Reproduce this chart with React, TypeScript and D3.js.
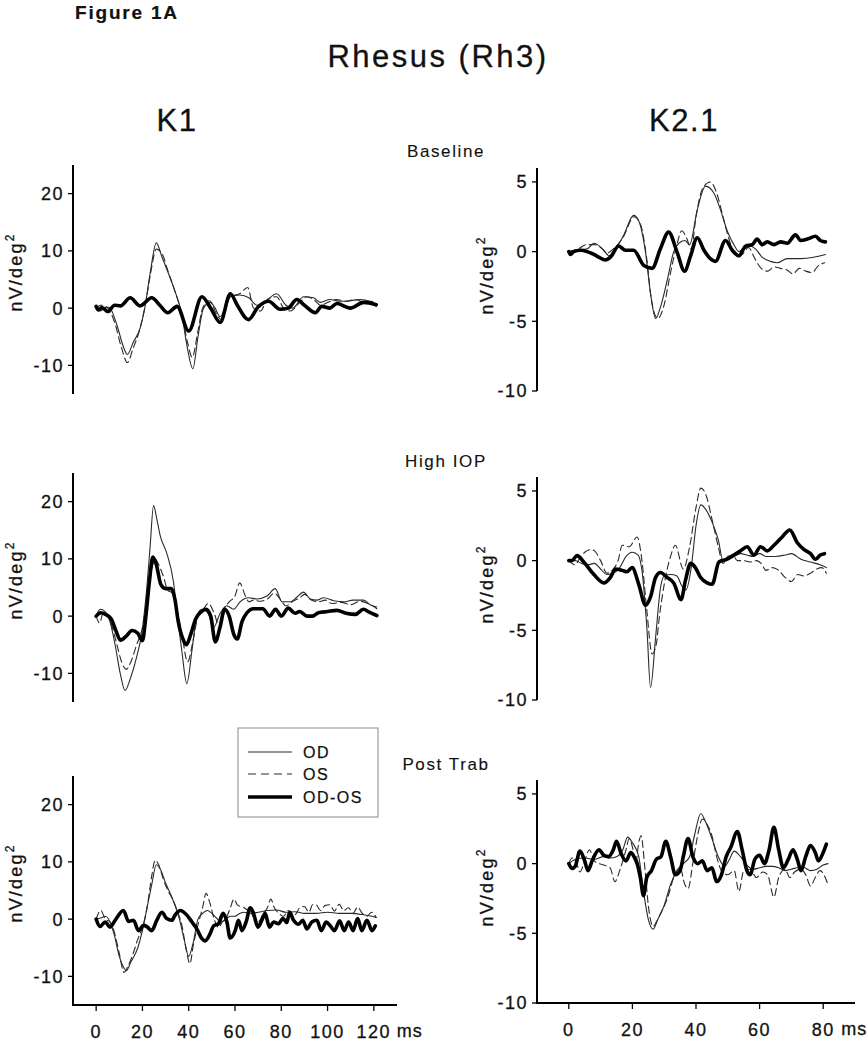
import React from 'react';
import * as d3 from 'd3';

type Pt = [number, number];

// ---------- text / ticks ----------
const FIGURE_LABEL = 'Figure 1A';
const TITLE = 'Rhesus (Rh3)';
const COLUMN_TITLES = ['K1', 'K2.1'];
const CONDITIONS = ['Baseline', 'High IOP', 'Post Trab'];
const SERIES_NAMES = ['OD', 'OS', 'OD-OS'];
const Y_LABEL = 'nV/deg';
const X_UNIT = 'ms';
const K1_Y_TICKS = [-10, 0, 10, 20];
const K2_Y_TICKS = [-10, -5, 0, 5];
const K1_X_TICKS = [0, 20, 40, 60, 80, 100, 120];
const K2_X_TICKS = [0, 20, 40, 60, 80];
const K1_Y_DOMAIN: [number, number] = [-15, 25];
const K2_Y_DOMAIN: [number, number] = [-10, 6];
const K1_X_DOMAIN: [number, number] = [-10, 130];
const K2_X_DOMAIN: [number, number] = [-10, 90];

// ---------- data: [ms, nV/deg2] ----------
const K1_BASE_OD: Pt[] = [[0,0.3],[1.7,-0.5],[4.6,0.2],[6,0],[9,-3],[12,-7],[13.5,-8.1],[16,-6],[19,-3.5],[21,0],[23.3,6],[26,11.4],[28.4,9],[31.3,6],[34,3],[37,-1],[39,-6],[41.8,-10.6],[44,-5],[46.4,0],[49.3,1],[51.4,0],[53.6,-1.5],[58,2],[62,2.3],[66,1.8],[69.5,0.5],[74,1.5],[78,2.5],[82,0.5],[85,0],[89.6,2],[94,1.8],[96.8,1],[101,1.5],[105.5,1.2],[110,1.3],[114,1.5],[118.4,1.2],[121,0.5]];
const K1_BASE_OS: Pt[] = [[0,0],[2,0.5],[5,0],[8,-2.5],[11,-7],[13.5,-9.5],[16,-7],[19,-3.5],[21,0],[23.5,6],[26,10.3],[28.5,9.5],[31,6.5],[34,3],[37,-1],[39.5,-6],[41.5,-8.6],[44,-4],[46,0],[49,1.3],[52,-1],[54,-2],[58,2],[62,2.5],[65.5,3.6],[68,0],[71,-0.5],[74,1.5],[78,2],[81,0],[84,-0.5],[88,1],[91,2],[94,1.5],[97,0.5],[100,1],[104,1.5],[108,1.2],[112,1.5],[116,1],[119,1.2],[121,0.3]];
const K1_BASE_DIFF: Pt[] = [[0,0.3],[1,-0.3],[2.5,0.1],[5,-0.6],[8,0.5],[10.5,0.4],[14.7,1.8],[19,0.4],[24,1.8],[27.5,0.5],[31,-0.8],[35,0.3],[40,-4],[45.7,2],[49.5,0],[53.6,-2.5],[58,2.5],[61,0.5],[65.8,-2],[70,0.2],[74.5,1.2],[79.5,-0.2],[83,0],[86.7,1.5],[90,0.5],[94.7,-0.8],[97.5,0.3],[101,0],[104,0.8],[109.8,0],[115.6,1],[121,0.6]];

const K2_BASE_OD: Pt[] = [[0,0],[2.6,0.1],[5.8,0.2],[7.9,0.6],[11,0.1],[12.6,-0.3],[14.7,0.2],[17.3,1.2],[20.4,2.6],[22,2.2],[24.1,0],[25.7,-3],[27.3,-4.8],[28.8,-4],[31,-2],[33,0],[34.6,0.6],[36.5,0.8],[38,0.5],[40.4,3],[43,4.7],[45.6,4.2],[47.7,3],[49.8,1.5],[51.9,0.5],[53.5,0],[55,0.2],[57,0.4],[58.7,0.2],[60.8,-0.4],[63.4,-0.7],[65.5,-0.8],[68.7,-0.5],[72.9,-0.5],[77,-0.4],[80.7,-0.2]];
const K2_BASE_OS: Pt[] = [[0,0],[3,0.2],[5.5,0.5],[8,0.5],[10,0.3],[12,-0.1],[14,0.2],[17,1],[20.5,2.5],[22.5,2],[24.5,-0.5],[26,-3.5],[28,-4.8],[30,-3.8],[32,-1.5],[34,0.5],[35.5,1.5],[37,1],[38.5,0.2],[40,2.5],[42,4.5],[44.5,5],[46.5,4.2],[48.5,2.5],[50.5,0.8],[52.5,-0.3],[54.5,-0.2],[56.5,0.3],[58.5,-0.5],[60.5,-1.2],[62.5,-1.4],[64.5,-1.1],[66.5,-1.2],[68.5,-1.3],[70.5,-1.6],[72.5,-1.2],[74.5,-1.4],[76.5,-1.5],[78.5,-1],[80.5,-0.8]];
const K2_BASE_DIFF: Pt[] = [[0,0],[0.5,-0.2],[1.5,0],[3.7,0.1],[5.8,0],[7.9,-0.2],[9.4,-0.4],[11.5,-0.6],[13.1,-0.4],[15.7,0.4],[17.8,0.1],[20.4,0.1],[23.6,-1],[26.2,-1.2],[28.8,0.2],[31.4,1.4],[34,0],[36.4,-1.4],[38.3,-0.3],[40.4,1],[42.5,0.1],[44.5,-0.5],[46.1,-0.7],[49.3,0.8],[51.4,0.1],[53.5,-0.3],[55.6,0.4],[57.7,0.5],[59.2,0.9],[60.8,0.5],[62.4,0.7],[64.5,0.5],[66.6,0.7],[68.7,0.6],[71.3,1.2],[72.9,0.8],[75,0.9],[77.6,1.1],[79.1,0.8],[80.7,0.7]];

const K1_HIGH_OD: Pt[] = [[0,0],[1.7,1.2],[3.9,0.8],[6,-1],[8.2,-5],[10.4,-10],[12.5,-13],[14.7,-11],[17.6,-7],[19.7,-3],[21.9,5],[23.3,12],[24.8,19.3],[26.2,17],[27.7,14],[30.5,11],[33.4,6],[34.9,1],[37,-6],[39.2,-11.8],[41.4,-6],[43.5,0],[45.7,1.2],[48.6,0.3],[50.7,-2],[53.6,0.5],[56.5,1.8],[59.4,1.2],[62.2,2.5],[65.9,3.2],[69.5,3],[73.8,3.5],[77.4,4.8],[80.3,2.5],[83.9,2.5],[86.7,3.3],[89.6,4.2],[92.5,3],[95.4,2.8],[98.3,3.2],[102.6,2.7],[107,2.5],[111,2.8],[115.6,2.8],[118.4,2],[121.3,1.6]];
const K1_HIGH_OS: Pt[] = [[0,0],[1.5,-1.2],[3,0.5],[5,0.3],[7,-2],[9,-5],[11,-8],[13,-9.3],[15,-8],[17.5,-5],[20,-2],[22,3],[24,8],[25.5,10],[27,9],[29,7],[31,4.5],[33,4],[35,1],[37,-3],[39.5,-8],[42,-4],[44,0],[46,1],[48.5,2.2],[51,0.5],[53,-1.5],[55,1],[57.5,2.5],[60,3.5],[62,5.8],[64.5,3.5],[66,2.5],[68,2.8],[71,2.6],[74,3],[77,4],[79.5,3],[82,1.8],[85,2.6],[88,3.2],[90,3.8],[93,2.8],[96,2.5],[99,2.8],[102,2.2],[106,2.4],[110,2],[114,2.6],[118,2.1],[121.3,1.3]];
const K1_HIGH_DIFF: Pt[] = [[0,0],[2,0.6],[4.5,0.2],[6.5,-0.5],[8.5,-2.5],[10.5,-4.2],[13,-3.5],[15.5,-2.5],[18,-3],[20,-4.3],[21.5,0],[23,6],[24.5,10.3],[26,9],[28,5.5],[30,4.8],[32.5,4.8],[34,3],[35.5,-1],[37.5,-4],[39,-5],[41,-3],[43,-0.5],[45.5,0.8],[47.5,1.2],[49.5,0],[51.5,-4.5],[53.5,-2],[55.5,1.2],[57.5,0],[59.5,-3.2],[61,-4],[63,-1],[65,0.5],[68,1.3],[72,1.3],[75,0],[77.5,1.2],[80,0],[83,1.4],[86,0.5],[88,0.8],[91,0],[93.5,0],[96,0.6],[100,0.8],[104,1],[108,0.5],[112,0.3],[115.5,1.2],[118,0.7],[121.3,0.1]];

const K2_HIGH_OD: Pt[] = [[0,0],[2,0],[4,-0.2],[6,-0.3],[8,-0.2],[10,-0.6],[12,-1],[14,-0.9],[16,-0.5],[18,0.3],[20,0.6],[21.8,0.4],[23,-0.7],[24.6,-5],[25.7,-9.1],[27.3,-5.5],[28.8,-2],[30,-1.1],[32,-1],[34,-1.1],[35.5,-1.8],[36.8,-2.1],[38.5,-0.5],[40,2.5],[41.5,4],[43,3.7],[45,2.8],[47,1.5],[48.5,0],[50,0.1],[52,0.3],[54,0.5],[56,0.4],[58,0.3],[60,0.5],[62,0.3],[65,0.3],[68,0.4],[70,0.5],[73,0.1],[76,-0.1],[79,-0.3],[81,-0.5]];
const K2_HIGH_OS: Pt[] = [[0,0],[2,-0.3],[3.5,0.2],[5,0.6],[7,0.8],[8.5,0.6],[10,0],[12,-0.9],[14,-0.6],[15.5,0],[16.8,1.1],[19,1],[21.5,1.7],[23,0],[24.5,-3.5],[26.2,-6.7],[27.5,-6],[28.5,-4],[30,-1.7],[32,0.3],[33.5,1.1],[36,-0.6],[38,1],[40,3.8],[41.5,5.2],[43,4.8],[45,3],[47,1],[48.5,-0.2],[50,0.3],[51.5,0.4],[53,0],[55,0],[57,-0.1],[59,0],[60.5,-0.2],[62,-0.7],[64,-0.5],[66,-0.7],[68,-1.2],[70,-1.5],[72,-1],[74,-1.1],[76,-0.9],[78,-0.6],[79.5,-0.5],[81,-0.9]];
const K2_HIGH_DIFF: Pt[] = [[0,0],[1,0],[2.6,0.36],[4.7,-0.1],[7.9,-1],[11,-1.6],[13.1,-1.2],[14.7,-0.6],[16.8,-0.7],[18.3,-0.8],[19.9,-0.5],[22,-1.7],[24.1,-3.2],[25.7,-2.6],[27.3,-1.2],[28.8,-0.85],[30.9,-1.2],[33,-1.6],[35.3,-2.8],[36.7,-1.4],[38.3,-0.2],[39.8,-0.5],[41.4,-1.2],[43.5,-1.6],[45.1,-1.7],[47.2,-0.1],[49.8,0.1],[51.9,0.4],[54,0.7],[56.1,1],[58.2,0.4],[60.3,1],[62.4,0.7],[64.5,1.1],[67.1,1.7],[69.5,2.2],[71.8,1.3],[73.9,0.8],[76,0.5],[77.6,0.1],[79.1,0.4],[80.4,0.5]];

const K1_POST_OD: Pt[] = [[0,0],[2,0.2],[4,0.5],[6,-0.5],[8,-3],[10,-6.5],[12,-8.5],[13,-9],[15,-7.5],[18,-5],[20,-2],[22,2],[24,6],[26,9.5],[28,8.5],[30,6.3],[32,4.5],[34,2.5],[36,0],[38,-3.5],[40,-6.5],[42,-4],[44,0],[46,1],[48,1.5],[50,1],[52,0.2],[54,-0.5],[56,0],[58,0.5],[60,0.5],[62,1],[64,1.2],[66,1],[70,1.2],[74,1.5],[78,1.6],[82,1.2],[86,1.3],[90,1],[95,1],[100,1.2],[105,1],[110,1],[115,0.8],[121,0.3]];
const K1_POST_OS: Pt[] = [[0,0],[2,1.5],[4,0],[6,-0.5],[8,-2.5],[10,-6],[12,-9.3],[14,-8],[16,-6],[18,-3.5],[20,-1.5],[22,2],[24,7.5],[25.5,10.3],[27,9.5],[29,7],[31,5],[33,3.5],[35,1.5],[37,-1],[39,-5.5],[40.5,-7.8],[42,-4.5],[44,-1],[46,2],[47.5,4.5],[49,3],[51,0],[53,-1.5],[54.5,-0.5],[56,0],[58,2],[59.5,3.5],[61,2.5],[62.5,2.2],[64,2],[65.5,1.5],[67,1],[68.5,0],[70,-0.5],[72,0.8],[74,2],[75.5,3.5],[77,2],[79,1],[81,0.5],[83,1.5],[85,0.5],[86.5,1],[88,2],[90,2.2],[92,1.2],[93.5,2.5],[95,2.5],[97,1.5],[99,2.4],[101,2.5],[103,1.4],[105,2.6],[107,1.5],[109,2],[111,1],[113,2.1],[115,1],[117,0.5],[119,1.2],[121,0.3]];
const K1_POST_DIFF: Pt[] = [[0,0],[1.7,-1.3],[3.9,-0.5],[6,-1.4],[8.2,-0.2],[11.8,1.5],[14,-0.4],[16.1,-0.2],[18.3,-2],[20.5,-1.1],[21.9,-1.3],[24,-2],[26.2,-0.2],[28.4,1.2],[30.5,0.1],[32.7,-0.2],[34.1,0.7],[36.3,1.5],[39.2,0.7],[41.4,-0.5],[43.5,-1.7],[45.7,-3.4],[47.1,-3.8],[49.3,-2.5],[50.7,-1.2],[52.9,-0.8],[54.8,1],[56.5,-0.5],[57.9,-3.3],[60.1,-2],[61.5,-0.2],[63,-2],[64.8,-0.5],[66.6,2],[68,1],[69.9,-1.4],[71.6,-0.2],[73,1],[74.9,-1.4],[76.7,-0.5],[78.8,-0.8],[80.7,0.1],[82.4,-0.6],[83.6,1.2],[85.3,-0.2],[87.5,-0.9],[89.3,-0.2],[91,-1.7],[93.2,-0.5],[95.4,-0.2],[97.3,-2],[99.4,-0.5],[101.2,-1.2],[103,-2],[105.2,-0.3],[107.2,-2],[109.1,-0.5],[111,-2],[113,0.1],[114.8,-2],[117,-0.2],[119.2,-2],[120.6,-1.2]];

const K2_POST_OD: Pt[] = [[0,0],[2,0.3],[5,0.4],[8,0.3],[11,0.5],[13,0.4],[15,0.5],[17,1],[18.5,1.9],[20,1.5],[22,0.5],[23.5,-2],[25,-4],[26.5,-4.7],[28,-4],[30,-3],[32,-1.5],[34,-0.5],[36,0],[38,0.5],[39.5,2],[41.5,3.6],[43,3],[45,1.8],[47,0.5],[49,-0.2],[50.5,0.3],[52,0.9],[54,0.5],[56,-0.1],[58,-0.4],[60,-0.3],[62,-0.2],[64,-0.2],[66,-0.3],[68,-0.5],[70,-0.4],[72,-0.3],[74,-0.3],[76,-0.5],[78,-0.4],[80,-0.1],[81.5,0]];
const K2_POST_OS: Pt[] = [[0,0],[1,0.4],[2.5,0],[3.5,-0.6],[5,0.2],[6.5,1],[8,0.2],[9.5,0],[11,-0.1],[13,-0.3],[14.5,-1.3],[16,-0.5],[18,1],[19,1.8],[20,1.2],[21,0],[22,1.5],[22.7,2],[24,-0.5],[25,-3],[26.5,-4.5],[27.5,-4.2],[29,-3.5],[31,-2.5],[33,-1],[35,-0.3],[36.5,-1.5],[37.5,-1.8],[39,0],[40.5,2],[42,3.2],[43.5,2.8],[45,2],[46.5,0.5],[48,-0.5],[50,-0.8],[52,-0.5],[53.5,-2],[55,-0.5],[57,-0.4],[59,-1],[61,-0.6],[62.5,-0.8],[64.5,-2.4],[66,-1],[68,-0.4],[69.5,-1],[71,-0.6],[73,-0.4],[74.5,-0.8],[76,-1.6],[77.5,-1],[79,-0.5],[81.5,-1.5]];
const K2_POST_DIFF: Pt[] = [[0,0],[1,-0.35],[2,-0.2],[3.5,0.9],[5,0.2],[6,-0.5],[7.5,0.3],[9.5,1],[11,0.6],[12.5,0.5],[14,1],[15,1.6],[16.5,0.7],[18,0.2],[19.5,0.8],[20.5,0.5],[21.5,0],[22.5,-1],[23.5,-2.3],[24.5,-1],[26,-0.5],[27.5,0.3],[29,0.5],[30.5,1.6],[32,0.5],[33.5,-0.8],[35,-0.5],[36,0.5],[37.5,1.8],[39,0.5],[40.5,0],[42,0.2],[43.5,-0.5],[45,-0.3],[46.5,-1.3],[48,-0.8],[49.5,0.5],[51,1.2],[53,2.3],[54.5,1],[56,-0.5],[57,-0.8],[58.5,0.3],[60,0.6],[61.5,0],[63,1],[64.5,2.6],[66,1],[67.5,-0.3],[69,0.3],[70.5,1],[72,0.2],[73,-0.5],[74.5,0.5],[76,1.3],[77.5,0.8],[78.5,0.2],[80,0.8],[81,1.4]];

const K1_SERIES = [
  [K1_BASE_OD, K1_BASE_OS, K1_BASE_DIFF],
  [K1_HIGH_OD, K1_HIGH_OS, K1_HIGH_DIFF],
  [K1_POST_OD, K1_POST_OS, K1_POST_DIFF],
];
const K2_SERIES = [
  [K2_BASE_OD, K2_BASE_OS, K2_BASE_DIFF],
  [K2_HIGH_OD, K2_HIGH_OS, K2_HIGH_DIFF],
  [K2_POST_OD, K2_POST_OS, K2_POST_DIFF],
];

// ---------- layout ----------
const FONT = '"Liberation Sans", Arial, Helvetica, sans-serif';
const W = 868;
const H = 1050;
const INK = '#111';
const SERIES_STYLE = [
  { stroke: '#2a2a2a', width: 1.1, dash: undefined as string | undefined },
  { stroke: '#2a2a2a', width: 1.1, dash: '7,4' },
  { stroke: '#000', width: 3.6, dash: undefined as string | undefined },
];
const COLUMNS = [
  {
    axisX: 73, xEnd: 397, xDomain: K1_X_DOMAIN, yDomain: K1_Y_DOMAIN,
    yTicks: K1_Y_TICKS, xTicks: K1_X_TICKS, tops: [165, 473, 776], height: 229,
    series: K1_SERIES, yLabelX: 22, titleX: 177, unitGap: 23,
  },
  {
    axisX: 537, xEnd: 855, xDomain: K2_X_DOMAIN, yDomain: K2_Y_DOMAIN,
    yTicks: K2_Y_TICKS, xTicks: K2_X_TICKS, tops: [168, 477, 780], height: 223,
    series: K2_SERIES, yLabelX: 493, titleX: 684, unitGap: 18,
  },
];

const textProps = (size: number, ls: number, sw = 0.3) => ({
  fontSize: size,
  letterSpacing: ls,
  fontFamily: FONT,
  fill: INK,
  stroke: INK,
  strokeWidth: sw,
});

function Panel({ col, row }: { col: typeof COLUMNS[number]; row: number }) {
  const top = col.tops[row];
  const bottom = top + col.height;
  const x = d3.scaleLinear().domain(col.xDomain).range([col.axisX, col.xEnd]);
  const y = d3.scaleLinear().domain(col.yDomain).range([bottom, top]);
  const line = d3
    .line<Pt>()
    .x((d) => x(d[0]))
    .y((d) => y(d[1]))
    .curve(d3.curveMonotoneX);
  const showX = row === 2;
  const lastTick = col.xTicks[col.xTicks.length - 1];
  return (
    <g>
      {col.series[row].map((s, i) => (
        <path
          key={i}
          d={line(s) || ''}
          fill="none"
          stroke={SERIES_STYLE[i].stroke}
          strokeWidth={SERIES_STYLE[i].width}
          strokeDasharray={SERIES_STYLE[i].dash}
          strokeLinejoin="round"
          strokeLinecap="round"
        />
      ))}
      <line x1={col.axisX} x2={col.axisX} y1={top} y2={bottom + (showX ? 1 : 0)} stroke="#000" strokeWidth={2} />
      {col.yTicks.map((t) => (
        <g key={t}>
          <line x1={col.axisX - 5} x2={col.axisX} y1={y(t)} y2={y(t)} stroke="#000" strokeWidth={1.3} />
          <text x={col.axisX - 9} y={y(t)} dy="0.36em" textAnchor="end" {...textProps(18, 1.5)}>
            {t}
          </text>
        </g>
      ))}
      <text
        transform={`translate(${col.yLabelX},${top + 107}) rotate(-90)`}
        textAnchor="middle"
        {...textProps(18, 2.2)}
      >
        {Y_LABEL}
        <tspan fontSize={12} dy={-8}>2</tspan>
      </text>
      {showX && (
        <g>
          <line x1={col.axisX - 1} x2={col.xEnd} y1={bottom} y2={bottom} stroke="#000" strokeWidth={2} />
          {col.xTicks.map((t) => (
            <g key={t}>
              <line x1={x(t)} x2={x(t)} y1={bottom} y2={bottom + 6} stroke="#000" strokeWidth={1.3} />
              <text x={x(t)} y={bottom + 33} textAnchor="middle" {...textProps(18, 1.5)}>
                {t}
              </text>
            </g>
          ))}
          <text x={x(lastTick) + col.unitGap} y={bottom + 32} {...textProps(18, 1)}>
            {X_UNIT}
          </text>
        </g>
      )}
    </g>
  );
}

function Legend() {
  const bx = 238, by = 728, bw = 140, bh = 89;
  const rows = [752, 774, 797];
  return (
    <g>
      <rect x={bx} y={by} width={bw} height={bh} fill="#fff" stroke="#8a8a8a" strokeWidth={1} />
      {SERIES_NAMES.map((name, i) => (
        <g key={name}>
          <line
            x1={248}
            x2={292}
            y1={rows[i]}
            y2={rows[i]}
            stroke={SERIES_STYLE[i].stroke}
            strokeWidth={SERIES_STYLE[i].width}
            strokeDasharray={i === 1 ? '8,5' : undefined}
          />
          <text x={303} y={rows[i]} dy="0.36em" {...textProps(16, 1.5, 0.25)}>
            {name}
          </text>
        </g>
      ))}
    </g>
  );
}

export default function App() {
  return (
    <svg
      width={W}
      height={H}
      viewBox={`0 0 ${W} ${H}`}
      style={{ position: 'absolute', left: 0, top: 0, background: '#fff' }}
    >
      <rect x={0} y={0} width={W} height={H} fill="#fff" />
      <text x={75} y={19} fontWeight="bold" {...textProps(19, 1.8, 0.2)}>
        {FIGURE_LABEL}
      </text>
      <text x={438} y={67} textAnchor="middle" {...textProps(31, 2.5, 0.3)}>
        {TITLE}
      </text>
      {COLUMNS.map((c, i) => (
        <text key={i} x={c.titleX} y={131} textAnchor="middle" {...textProps(31, 1.5, 0.3)}>
          {COLUMN_TITLES[i]}
        </text>
      ))}
      {CONDITIONS.map((c, i) => (
        <text key={c} x={446} y={[157, 467, 770][i]} textAnchor="middle" {...textProps(17, 1.6, 0.12)}>
          {c}
        </text>
      ))}
      {COLUMNS.map((c, ci) => [0, 1, 2].map((r) => <Panel key={`${ci}-${r}`} col={c} row={r} />))}
      <Legend />
    </svg>
  );
}
